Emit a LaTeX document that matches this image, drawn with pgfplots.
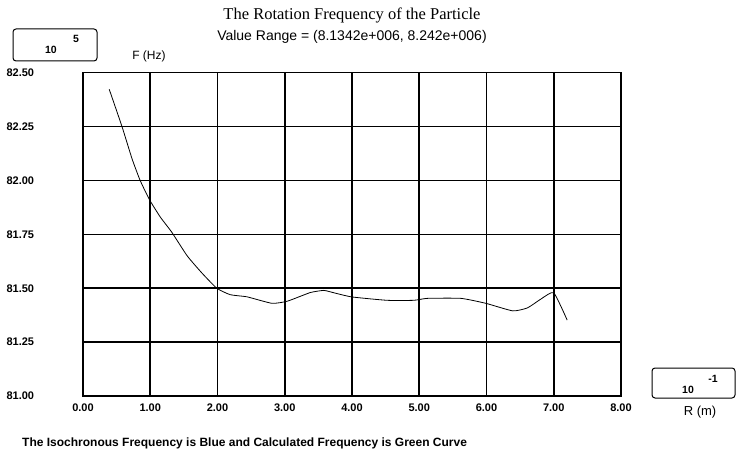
\documentclass[border=0pt]{standalone}
\usepackage{pgfplots}
\pgfplotsset{compat=1.18}
\usepackage{fontspec}
\setmainfont{Liberation Sans}
\newfontfamily\seriffont{Liberation Serif}
\begin{document}
\begin{tikzpicture}[x=1pt,y=1pt]
\useasboundingbox (0,0) rectangle (736,450);
\begin{axis}[
  at={(83pt,54pt)}, anchor=south west,
  scale only axis, width=538pt, height=323.3pt,
  xmin=0, xmax=8, ymin=81, ymax=82.5,
  xtick={0,1,2,3,4,5,6,7,8},
  ytick={81,81.25,81.5,81.75,82,82.25,82.5},
  grid=major, major grid style={black, line width=1.6pt},
  axis line style={black, line width=1.6pt},
  tick style={draw=none},
  /pgf/number format/assume math mode=true,
  /pgf/number format/fixed, /pgf/number format/fixed zerofill,
  /pgf/number format/precision=2,
  ticklabel style={font=\bfseries\fontsize{11}{12}\selectfont},
  xticklabel style={yshift=-4pt},
  yticklabel style={anchor=west, xshift=-80pt},
]
\addplot[black, line width=0.8pt, smooth, tension=0.3] coordinates {
(0.39,82.423) (0.58,82.25) (0.73,82.10) (0.85,82.0) (0.99,81.91) (1.15,81.83)
(1.32,81.76) (1.55,81.65) (1.77,81.57) (1.99,81.50) (2.19,81.47) (2.44,81.46)
(2.81,81.43) (3.04,81.44) (3.38,81.48) (3.58,81.49) (3.68,81.483) (3.99,81.46)
(4.52,81.444) (4.92,81.444) (5.12,81.453) (5.62,81.453) (5.99,81.43) (6.39,81.395)
(6.61,81.409) (6.81,81.45) (7.0,81.479) (7.20,81.352)
};
\end{axis}
\node at (352,435) {\seriffont\fontsize{16.5}{18}\selectfont The Rotation Frequency of the Particle};
\node at (352,413) {\fontsize{14}{16}\selectfont Value Range = (8.1342e+006, 8.242e+006)};
\draw[rounded corners=3pt, line width=1pt] (13,389) rectangle (97,421);
\node at (51,400) {\bfseries\fontsize{10.5}{12}\selectfont 10};
\node at (76,411) {\bfseries\fontsize{10.5}{12}\selectfont 5};
\node at (149,394) {\fontsize{12}{14}\selectfont F (Hz)};
\draw[rounded corners=3pt, line width=1pt] (652,52) rectangle (735,82);
\node at (688,60) {\bfseries\fontsize{10.5}{12}\selectfont 10};
\node at (713,71) {\bfseries\fontsize{10.5}{12}\selectfont -1};
\node at (700,38) {\fontsize{13}{15}\selectfont R (m)};
\node[anchor=base west, inner sep=0pt] at (22,4) {\bfseries\fontsize{12}{14}\selectfont The Isochronous Frequency is Blue and Calculated Frequency is Green Curve};
\end{tikzpicture}
\end{document}
